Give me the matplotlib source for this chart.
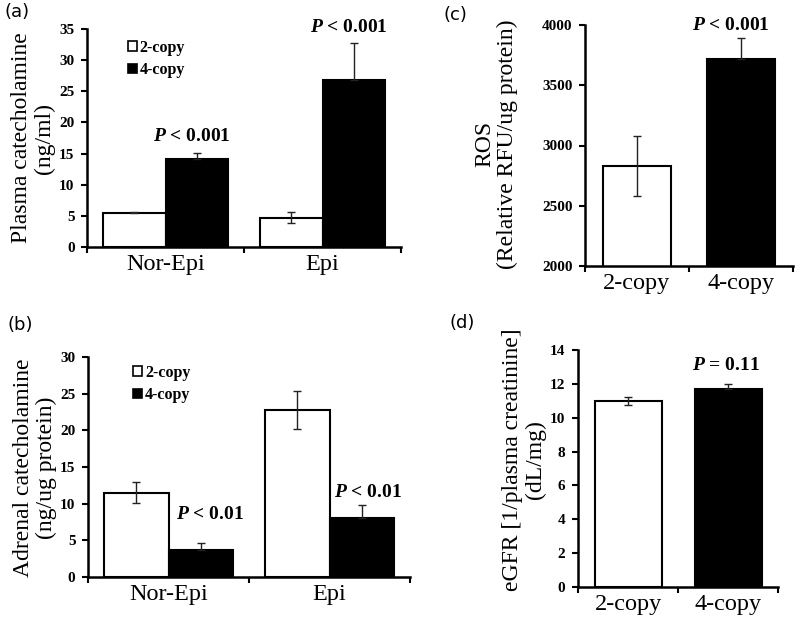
import matplotlib
matplotlib.use('Agg')
import matplotlib.pyplot as plt
from matplotlib.patches import Patch
from matplotlib.ticker import FixedLocator, MultipleLocator
import numpy as np

plt.rcParams['mathtext.fontset'] = 'custom'
plt.rcParams['mathtext.rm'] = 'Liberation Serif:bold'
plt.rcParams['mathtext.it'] = 'Liberation Serif:bold:italic'
plt.rcParams['mathtext.bf'] = 'Liberation Serif:bold'

SERIF = 'Liberation Serif'

# ---------------- data ----------------
groups = ['Nor-Epi', 'Epi']
copy_labels = ['2-copy', '4-copy']

plasma_2copy = [5.5, 4.7]
plasma_2copy_err = [0.1, 0.9]
plasma_4copy = [14.1, 26.8]
plasma_4copy_err = [1.0, 6.0]
plasma_p = ['< 0.001', '< 0.001']

adrenal_2copy = [11.5, 22.8]
adrenal_2copy_err = [1.4, 2.6]
adrenal_4copy = [3.7, 8.0]
adrenal_4copy_err = [0.9, 1.8]
adrenal_p = ['< 0.01', '< 0.01']

ros_values = [2830, 3720]
ros_err = [250, 170]
ros_p = '< 0.001'

egfr_values = [11.0, 11.7]
egfr_err = [0.25, 0.3]
egfr_p = '= 0.11'

bar_colors = ['white', 'black']

fig = plt.figure(figsize=(8.0, 6.21), dpi=100)


def style_axes(ax, ymin, ymax, ystep, xlabels):
    for s in ['top', 'right']:
        ax.spines[s].set_visible(False)
    for s in ['left', 'bottom']:
        ax.spines[s].set_linewidth(1.8)
    ax.set_xlim(-0.5, len(xlabels) - 0.5)
    ax.set_ylim(ymin, ymax)
    ax.yaxis.set_major_locator(MultipleLocator(ystep))
    ax.xaxis.set_major_locator(FixedLocator(np.arange(len(xlabels))))
    ax.set_xticklabels(xlabels, fontsize=17.5, family=SERIF)
    ax.xaxis.set_minor_locator(FixedLocator(np.arange(len(xlabels) + 1) - 0.5))
    ax.tick_params(axis='x', which='major', length=0, pad=5)
    ax.tick_params(axis='x', which='minor', length=4, width=1.5, direction='out')
    ax.tick_params(axis='y', length=4, width=1.5, direction='out', pad=5)
    for lab in ax.get_yticklabels():
        lab.set_fontfamily(SERIF)
        lab.set_fontweight('bold')
        lab.set_fontsize(11)


def ptext(ax, x, y, rest, size=14):
    ax.text(x, y, r'$\mathit{P}$ ' + rest, ha='center', va='center',
            fontsize=size, fontweight='bold', family=SERIF, clip_on=False)


def up_only(errs):
    return [np.zeros(len(errs)), errs]


err_kw = dict(ecolor='#222222', elinewidth=1.0, capsize=3, capthick=1.0)

# ---------------- (a) ----------------
axa = fig.add_axes([87 / 800, 1 - 247 / 621, 314 / 800, 218 / 621])
x = np.arange(len(groups))
w = 0.4
axa.bar(x - w / 2, plasma_2copy, w, yerr=plasma_2copy_err, color=bar_colors[0],
        edgecolor='black', linewidth=1.5, error_kw=err_kw, label=copy_labels[0])
axa.bar(x + w / 2, plasma_4copy, w, yerr=up_only(plasma_4copy_err), color=bar_colors[1],
        edgecolor='black', linewidth=1.5, error_kw=err_kw, label=copy_labels[1])
style_axes(axa, 0, 35, 5, groups)
ptext(axa, x[0] + 0.17, 17.8, plasma_p[0])
ptext(axa, x[1] + 0.17, 35.2, plasma_p[1])

# ---------------- (b) ----------------
axb = fig.add_axes([88 / 800, 1 - 577 / 621, 322 / 800, 220 / 621])
axb.bar(x - w / 2, adrenal_2copy, w, yerr=adrenal_2copy_err, color=bar_colors[0],
        edgecolor='black', linewidth=1.5, error_kw=err_kw, label=copy_labels[0])
axb.bar(x + w / 2, adrenal_4copy, w, yerr=up_only(adrenal_4copy_err), color=bar_colors[1],
        edgecolor='black', linewidth=1.5, error_kw=err_kw, label=copy_labels[1])
style_axes(axb, 0, 30, 5, groups)
ptext(axb, x[0] + 0.26, 8.5, adrenal_p[0])
ptext(axb, x[1] + 0.24, 11.5, adrenal_p[1])

# legends
for ax, anchor in [(axa, (0.13, 0.95)), (axb, (0.14, 0.965))]:
    handles = [Patch(facecolor=bar_colors[0], edgecolor='black', linewidth=1.2),
               Patch(facecolor=bar_colors[1], edgecolor='black', linewidth=1.2)]
    ax.legend(handles, copy_labels, loc='upper left', bbox_to_anchor=anchor,
              frameon=False, borderpad=0, borderaxespad=0, handlelength=0.55,
              handleheight=0.55, handletextpad=0.2, labelspacing=0.4,
              prop={'family': SERIF, 'weight': 'bold', 'size': 11.5})

# ---------------- (c) ----------------
axc = fig.add_axes([585 / 800, 1 - 266 / 621, 208 / 800, 241 / 621])
xc = np.arange(len(copy_labels))
axc.bar(xc, ros_values, 0.66, yerr=[[ros_err[0], 0], [ros_err[0], ros_err[1]]],
        color=bar_colors, edgecolor='black', linewidth=1.5, error_kw=err_kw)
style_axes(axc, 2000, 4000, 500, copy_labels)
ptext(axc, xc[1] - 0.1, 4000, ros_p)

# ---------------- (d) ----------------
axd = fig.add_axes([578 / 800, 1 - 587 / 621, 200 / 800, 237 / 621])
axd.bar(xc, egfr_values, 0.67, yerr=[[egfr_err[0], 0], [egfr_err[0], egfr_err[1]]],
        color=bar_colors, edgecolor='black', linewidth=1.5, error_kw=err_kw)
style_axes(axd, 0, 14, 2, copy_labels)
ptext(axd, xc[1] - 0.02, 13.1, egfr_p)

# ---------------- y labels ----------------
ylab_kw = dict(rotation=90, ha='center', va='center', multialignment='center',
               family=SERIF, fontsize=17, linespacing=1.1)
fig.text(33 / 800, 1 - 138 / 621, 'Plasma catecholamine\n(ng/ml)', **ylab_kw)
fig.text(35 / 800, 1 - 468 / 621, 'Adrenal catecholamine\n(ng/ug protein)', **ylab_kw)
fig.text(496 / 800, 1 - 144 / 621, 'ROS\n(Relative RFU/ug protein)', **ylab_kw)
fig.text(524 / 800, 1 - 460 / 621, 'eGFR [1/plasma creatinine]\n(dL/mg)', **ylab_kw)

# ---------------- panel labels ----------------
plab_kw = dict(ha='center', va='center', family='DejaVu Sans', fontsize=13)
fig.text(17 / 800, 1 - 12 / 621, '(a)', **plab_kw)
fig.text(20 / 800, 1 - 325 / 621, '(b)', **plab_kw)
fig.text(455 / 800, 1 - 15 / 621, '(c)', **plab_kw)
fig.text(462 / 800, 1 - 323 / 621, '(d)', **plab_kw)

fig.savefig('out.png', dpi=100)
